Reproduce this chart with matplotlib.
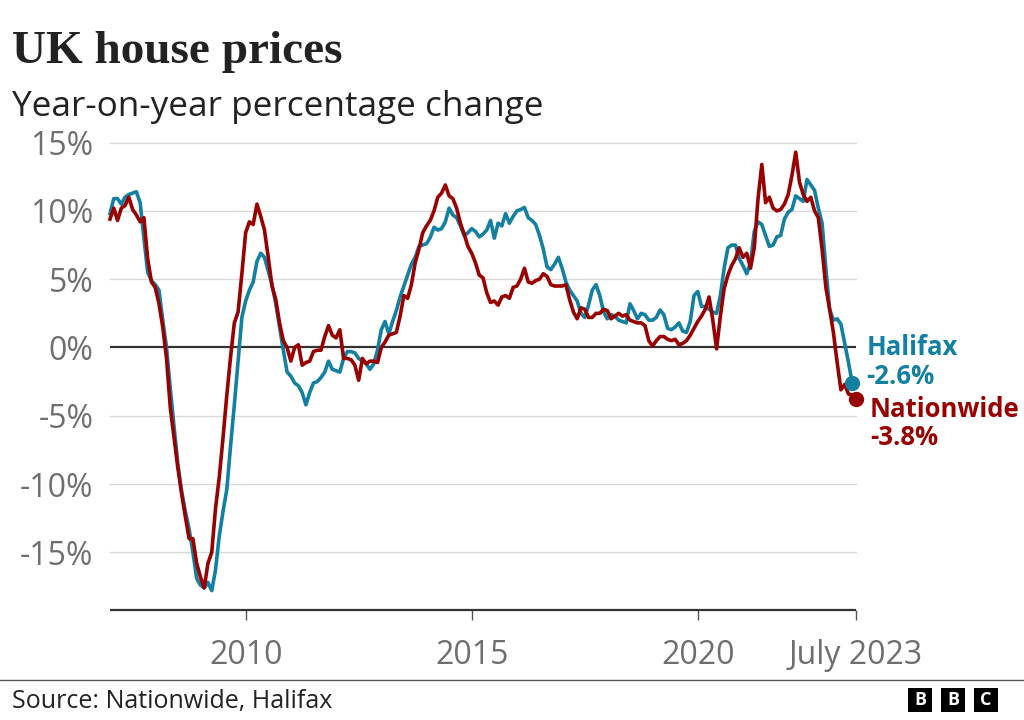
import matplotlib
matplotlib.use("Agg")
import matplotlib.pyplot as plt
from matplotlib.patches import Rectangle
import numpy as np

# ---- data (monthly year-on-year % change) ----
start_year = 2007
nationwide = [
    # 2007
    9.4, 10.2, 9.3, 10.2, 10.4, 11.0, 10.1, 9.7, 9.2, 9.5, 6.5, 4.8,
    # 2008
    4.4, 3.2, 1.5, -0.8, -4.4, -6.6, -8.8, -10.7, -12.4, -14.0, -14.0, -15.8,
    # 2009
    -16.8, -17.6, -15.8, -15.0, -11.8, -9.5, -6.6, -3.5, -0.7, 1.8, 2.6, 5.4,
    # 2010
    8.4, 9.2, 9.0, 10.5, 9.6, 8.6, 6.6, 4.5, 3.5, 1.8, 0.5, 0.0,
    # 2011
    -1.0, 0.0, 0.2, -1.3, -1.1, -1.0, -0.3, -0.2, -0.2, 0.8, 1.6, 0.9,
    # 2012
    0.7, 1.3, -0.8, -0.8, -0.9, -1.3, -2.4, -0.8, -1.2, -1.0, -1.0, -1.1,
    # 2013
    0.0, 0.4, 0.9, 1.0, 1.1, 2.3, 3.8, 3.6, 4.6, 6.2, 7.2, 8.4,
    # 2014
    8.9, 9.3, 10.0, 11.0, 11.3, 11.9, 11.1, 10.9, 10.2, 9.1, 8.3, 7.4,
    # 2015
    6.9, 6.2, 5.3, 5.1, 4.0, 3.3, 3.4, 3.1, 3.7, 3.8, 3.6, 4.4,
    # 2016
    4.5, 5.0, 5.8, 4.8, 4.7, 4.9, 5.0, 5.4, 5.2, 4.6, 4.5, 4.5,
    # 2017
    4.5, 4.6, 3.5, 2.6, 2.1, 2.9, 2.8, 2.2, 2.2, 2.5, 2.5, 2.8,
    # 2018
    2.7, 2.1, 2.3, 2.5, 2.3, 2.4, 2.0, 1.9, 1.8, 1.8, 1.6, 0.5,
    # 2019
    0.1, 0.5, 0.8, 0.8, 0.6, 0.5, 0.6, 0.2, 0.3, 0.5, 0.9, 1.4,
    # 2020
    1.9, 2.3, 2.8, 3.7, 2.0, -0.1, 2.3, 4.3, 5.3, 6.0, 6.5, 7.3,
    # 2021
    6.6, 6.9, 5.8, 7.3, 10.9, 13.4, 10.6, 11.0, 10.2, 10.0, 10.1, 10.5,
    # 2022
    11.2, 12.6, 14.3, 12.1, 11.2, 10.7, 11.0, 10.0, 9.5, 7.2, 4.4, 2.8,
    # 2023 (to July)
    1.1, -1.1, -3.1, -2.7, -3.4, -3.5, -3.8,
]
halifax = [
    # 2007
    9.8, 10.9, 10.9, 10.5, 11.0, 11.2, 11.3, 11.4, 10.6, 8.0, 5.5, 4.9,
    # 2008
    4.6, 4.2, 2.0, 0.0, -3.0, -5.8, -8.5, -10.5, -12.0, -13.3, -15.0, -16.9,
    # 2009
    -17.4, -17.6, -17.2, -17.8, -16.3, -13.8, -12.0, -10.4, -7.2, -4.2, -1.0, 2.2,
    # 2010
    3.4, 4.2, 4.8, 6.3, 6.9, 6.6, 5.6, 4.6, 3.2, 1.5, -0.2, -1.8,
    # 2011
    -2.1, -2.6, -2.8, -3.3, -4.2, -3.3, -2.6, -2.5, -2.2, -1.8, -1.0, -1.6,
    # 2012
    -1.7, -1.8, -0.8, -0.3, -0.3, -0.4, -0.8, -1.0, -1.2, -1.6, -1.2, -0.2,
    # 2013
    1.3, 1.9, 1.0, 1.9, 2.7, 3.7, 4.5, 5.3, 6.1, 6.6, 7.4, 7.5,
    # 2014
    7.6, 8.05, 8.8, 8.6, 8.7, 9.2, 10.2, 9.7, 9.5, 8.9, 8.2, 8.4,
    # 2015
    8.7, 8.5, 8.1, 8.3, 8.6, 9.3, 8.0, 9.1, 8.9, 9.8, 9.1, 9.6,
    # 2016
    10.0, 10.1, 10.25, 9.5, 9.3, 9.0, 8.2, 7.2, 5.9, 5.7, 6.1, 6.6,
    # 2017
    5.8, 4.8, 4.2, 3.8, 3.4, 2.5, 2.2, 3.1, 4.2, 4.6, 3.8, 2.6,
    # 2018
    2.1, 2.4, 2.3, 2.0, 1.9, 1.8, 3.2, 2.7, 2.1, 2.5, 2.4, 2.0,
    # 2019
    2.0, 2.2, 2.75, 2.4, 1.4, 1.3, 1.5, 1.8, 1.2, 1.1, 1.9, 3.8,
    # 2020
    4.1, 3.0, 3.0, 2.8, 2.6, 2.5, 3.8, 5.8, 7.3, 7.5, 7.5, 6.5,
    # 2021
    6.0, 5.4, 6.2, 8.5, 9.2, 9.0, 8.2, 7.4, 7.5, 8.1, 8.2, 9.4,
    # 2022
    9.9, 10.1, 11.1, 10.9, 10.7, 12.3, 11.9, 11.5, 10.2, 9.1, 5.8, 2.8,
    # 2023 (to June)
    2.0, 2.1, 1.7, 0.3, -1.1, -2.6,
]
x_ticks = [2010, 2015, 2020, 2023.5]
x_tick_labels = ["2010", "2015", "2020", "July 2023"]
y_ticks = [-15, -10, -5, 0, 5, 10, 15]
y_tick_labels = ["-15%", "-10%", "-5%", "0%", "5%", "10%", "15%"]

t_nat = start_year + np.arange(len(nationwide)) / 12.0
t_hal = start_year + np.arange(len(halifax)) / 12.0

HAL_C = "#1380A1"
NAT_C = "#990000"
GREY = "#6e6e6e"
SANS = ["Open Sans", "DejaVu Sans"]

W, H = 1024, 720
fig = plt.figure(figsize=(W / 100, H / 100), dpi=100)
fig.patch.set_facecolor("white")

def px(x0, y0):
    return x0 / W, 1 - y0 / H

ax_left, ax_right, ax_top, ax_bottom = 110, 856, 142.6, 610
ax = fig.add_axes([ax_left / W, 1 - ax_bottom / H, (ax_right - ax_left) / W, (ax_bottom - ax_top) / H])
ax.set_xlim(2007.0, 2023.5)
ax.set_ylim(-19.22, 15.0)

for v in y_ticks:
    if v == 0:
        continue
    ax.axhline(v, color="#d9d9d9", lw=1.0, zorder=1, clip_on=False)
ax.axhline(0, color="#333333", lw=1.6, zorder=2)

ax.plot(t_hal, halifax, color=HAL_C, lw=2.6, zorder=3, clip_on=False, solid_joinstyle="round")
ax.plot(t_nat, nationwide, color=NAT_C, lw=2.6, zorder=4, clip_on=False, solid_joinstyle="round")
ax.plot(t_hal[-1], halifax[-1], "o", color=HAL_C, ms=10, zorder=5, clip_on=False)
ax.plot(t_nat[-1], nationwide[-1], "o", color=NAT_C, ms=10, zorder=6, clip_on=False)

ax.annotate("Halifax\n%.1f%%" % halifax[-1], xy=(t_hal[-1], halifax[-1]), xytext=(14, 21),
            textcoords="offset pixels", ha="left", va="center", color=HAL_C,
            fontsize=18.5, fontweight="bold", family=SANS, linespacing=1.05, annotation_clip=False)
ax.annotate("Nationwide\n%.1f%%" % nationwide[-1], xy=(t_nat[-1], nationwide[-1]), xytext=(14, -24),
            textcoords="offset pixels", ha="left", va="center", color=NAT_C,
            fontsize=18.5, fontweight="bold", family=SANS, linespacing=1.05, annotation_clip=False)

for s in ["top", "right", "left"]:
    ax.spines[s].set_visible(False)
ax.spines["bottom"].set_color("#333333")
ax.spines["bottom"].set_linewidth(1.6)
ax.spines["bottom"].set_capstyle("butt")

ax.set_xticks(x_ticks)
ax.set_xticklabels(x_tick_labels, family=SANS, fontsize=23, color=GREY)
ax.tick_params(axis="x", length=7, width=1.0, color="#555555", pad=14)
ax.set_yticks(y_ticks)
ax.set_yticklabels(y_tick_labels, family=SANS, fontsize=23, color=GREY)
ax.tick_params(axis="y", length=0, pad=12)

# titles
fig.text(*px(12, 63), "UK house prices", family=["Liberation Serif", "DejaVu Serif"],
         fontweight="bold", fontsize=34, color="#222222", va="baseline", ha="left")
fig.text(*px(12, 116), "Year-on-year percentage change", family=SANS,
         fontsize=25.3, color="#222222", va="baseline", ha="left")

# footer
fig.add_artist(plt.Line2D([0, 1], [1 - 680 / H, 1 - 680 / H], color="#555555", lw=1.0))
fig.text(*px(12, 708), "Source: Nationwide, Halifax", family=SANS, fontsize=18,
         color="#222222", va="baseline", ha="left")
for i, letter in enumerate("BBC"):
    x0 = 908 + i * 33
    fig.add_artist(Rectangle((x0 / W, 1 - 712 / H), 24 / W, 24 / H, transform=fig.transFigure,
                             facecolor="black", edgecolor="none"))
    fig.text((x0 + 12) / W, 1 - 700 / H, letter, family=SANS, fontweight="bold", fontsize=13,
             color="white", ha="center", va="center")

fig.savefig("out.png", dpi=100, facecolor="white")
